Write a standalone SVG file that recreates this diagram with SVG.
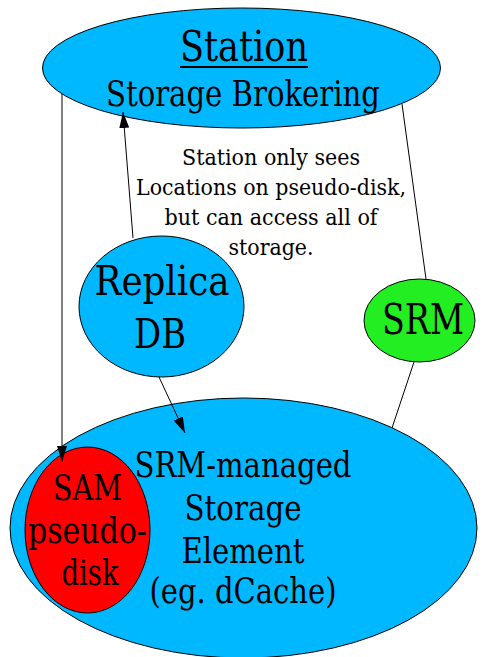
<svg xmlns="http://www.w3.org/2000/svg" width="483" height="657" viewBox="0 0 483 657">
  <defs>
    <marker id="arrow" viewBox="0 0 16 10" refX="16" refY="5" markerWidth="16" markerHeight="10" markerUnits="userSpaceOnUse" orient="auto">
      <path d="M0,0 L16,5 L0,10 Z" fill="#000"/>
    </marker>
    <style>
      .node { stroke: #000; stroke-width: 1; }
      .blue { fill: #00b8ff; }
      .red { fill: #ff0000; }
      .green { fill: #22ee22; }
      text { font-family: "DejaVu Serif", serif; fill: #000; text-anchor: middle; }
      .edge { stroke: #000; stroke-width: 1; fill: none; }
    </style>
  </defs>
  <rect width="483" height="657" fill="#fff"/>

  <g id="station">
    <ellipse class="node blue" cx="241.5" cy="68" rx="199" ry="60"/>
    <text x="244" y="61" font-size="43" textLength="128" lengthAdjust="spacingAndGlyphs">Station</text>
    <rect x="180" y="66" width="128" height="2" fill="#000"/>
    <text x="243" y="106" font-size="35" textLength="274" lengthAdjust="spacingAndGlyphs">Storage Brokering</text>
  </g>

  <g id="note" font-size="22">
    <text x="271" y="165" textLength="178" lengthAdjust="spacingAndGlyphs">Station only sees</text>
    <text x="271" y="195" textLength="270" lengthAdjust="spacingAndGlyphs">Locations on pseudo-disk,</text>
    <text x="271" y="225" textLength="213" lengthAdjust="spacingAndGlyphs">but can access all of</text>
    <text x="271" y="255" textLength="85" lengthAdjust="spacingAndGlyphs">storage.</text>
  </g>

  <g id="replica-db">
    <ellipse class="node blue" cx="161.5" cy="306.5" rx="82.5" ry="70.5"/>
    <text x="162" y="295" font-size="41" textLength="135" lengthAdjust="spacingAndGlyphs">Replica</text>
    <text x="160" y="348" font-size="41" textLength="52" lengthAdjust="spacingAndGlyphs">DB</text>
  </g>

  <g id="srm">
    <ellipse class="node green" cx="419.5" cy="320.5" rx="55.5" ry="41.5"/>
    <text x="423" y="334" font-size="42" textLength="82" lengthAdjust="spacingAndGlyphs">SRM</text>
  </g>

  <g id="storage-element" font-size="36">
    <ellipse class="node blue" cx="243.5" cy="528" rx="233.5" ry="130"/>
    <text x="243" y="477" textLength="217" lengthAdjust="spacingAndGlyphs">SRM-managed</text>
    <text x="243" y="520" textLength="117" lengthAdjust="spacingAndGlyphs">Storage</text>
    <text x="243" y="563" textLength="123" lengthAdjust="spacingAndGlyphs">Element</text>
    <text x="243" y="603" textLength="187" lengthAdjust="spacingAndGlyphs">(eg. dCache)</text>
  </g>

  <g id="sam-pseudo-disk" font-size="35">
    <ellipse class="node red" cx="87.5" cy="530" rx="62.5" ry="83"/>
    <text x="87.5" y="500" textLength="69" lengthAdjust="spacingAndGlyphs">SAM</text>
    <text x="87.5" y="543" textLength="119" lengthAdjust="spacingAndGlyphs">pseudo-</text>
    <text x="90" y="585" textLength="57" lengthAdjust="spacingAndGlyphs">disk</text>
  </g>

  <g id="connectors">
    <line class="edge" x1="62" y1="94" x2="62" y2="462" marker-end="url(#arrow)"/>
    <line class="edge" x1="133" y1="238" x2="123" y2="112" marker-end="url(#arrow)"/>
    <line class="edge" x1="159" y1="377" x2="185" y2="433" marker-end="url(#arrow)"/>
    <line class="edge" x1="402" y1="104" x2="426" y2="279"/>
    <line class="edge" x1="414" y1="362" x2="392" y2="428"/>
  </g>
</svg>
